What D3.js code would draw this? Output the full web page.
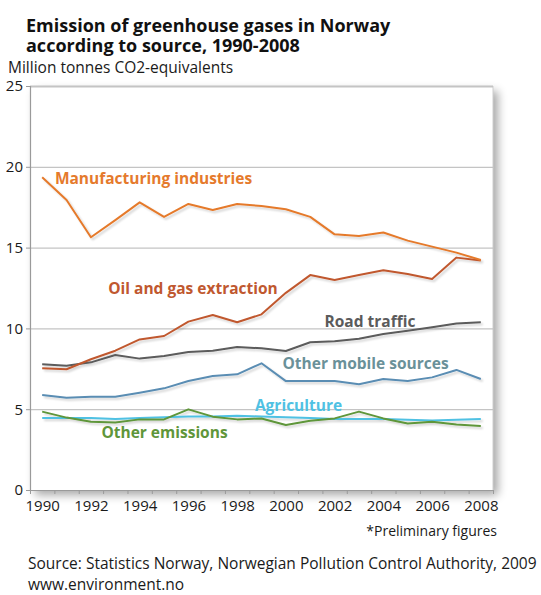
<!DOCTYPE html>
<html>
<head>
<meta charset="utf-8">
<script src="https://cdn.jsdelivr.net/npm/d3@7"></script>
<style>
  body { margin: 0; background: #fff; }
  svg text { font-family: "Open Sans", "Noto Sans", sans-serif; }
</style>
</head>
<body>
<div id="chartCtn"></div>
<script>
// values (million tonnes CO2-equivalents)
var years = d3.range( 1990, 2009 );
var yearLabels = [ 1990, 1992, 1994, 1996, 1998, 2000, 2002, 2004, 2006, 2008 ];
var yTicks = [ 0, 5, 10, 15, 20, 25 ];

var manufacturing = [ 19.35, 17.95, 15.64, 16.7, 17.8, 16.9, 17.7, 17.33, 17.7, 17.57,
	17.37, 16.9, 15.82, 15.72, 15.93, 15.43, 15.06, 14.69, 14.23 ];
var oilGas = [ 7.53, 7.47, 8.09, 8.62, 9.32, 9.53, 10.42, 10.83, 10.38, 10.87,
	12.2, 13.3, 13.0, 13.3, 13.6, 13.37, 13.06, 14.38, 14.2 ];
var roadTraffic = [ 7.78, 7.69, 7.9, 8.35, 8.13, 8.29, 8.54, 8.62, 8.85, 8.77,
	8.6, 9.14, 9.2, 9.36, 9.65, 9.86, 10.07, 10.31, 10.38 ];
var otherMobile = [ 5.88, 5.71, 5.77, 5.77, 6.02, 6.29, 6.74, 7.05, 7.16, 7.84,
	6.74, 6.74, 6.74, 6.54, 6.87, 6.74, 6.97, 7.43, 6.87 ];
var agriculture = [ 4.45, 4.45, 4.45, 4.4, 4.45, 4.5, 4.55, 4.55, 4.6, 4.55,
	4.5, 4.45, 4.4, 4.4, 4.4, 4.35, 4.3, 4.35, 4.4 ];
var otherEmissions = [ 4.85, 4.48, 4.23, 4.17, 4.37, 4.37, 4.99, 4.54, 4.37, 4.43,
	4.02, 4.29, 4.43, 4.85, 4.43, 4.12, 4.23, 4.06, 3.96 ];

var seriesNames = [ "Manufacturing industries", "Oil and gas extraction", "Road traffic",
	"Other mobile sources", "Agriculture", "Other emissions" ];
var seriesValues = [ manufacturing, oilGas, roadTraffic, otherMobile, agriculture, otherEmissions ];
var lineColors = [ "#e57a2c", "#c0582f", "#5b5b5b", "#5a8db3", "#4fc1e3", "#5f963a" ];
var labelColors = [ "#e57a2c", "#c0582f", "#5b5b5b", "#6a9199", "#4fc1e3", "#5f963a" ];
// label centre: [year position, value]
var labelPos = [ [ 1994.57, 19.25 ], [ 1996.19, 12.44 ], [ 2003.45, 10.4 ], [ 2003.27, 7.8 ], [ 2000.52, 5.22 ], [ 1995.02, 3.53 ] ];

( function () {
	var width = 541, height = 595;
	var mLeft = 30, mRight = 493, mTop = 86, mBottom = 490;

	var svg = d3.select( "#chartCtn" )
		.append( "svg" )
		.attr( "width", width )
		.attr( "height", height );

	var defs = svg.append( "defs" );
	var shadow = defs.append( "filter" ).attr( "id", "boxShadow" )
		.attr( "x", "-5%" ).attr( "y", "-5%" ).attr( "width", "115%" ).attr( "height", "115%" );
	shadow.append( "feGaussianBlur" ).attr( "in", "SourceAlpha" ).attr( "stdDeviation", 5 );
	shadow.append( "feOffset" ).attr( "dx", 5 ).attr( "dy", 5 );
	shadow.append( "feComponentTransfer" ).append( "feFuncA" ).attr( "type", "linear" ).attr( "slope", 0.35 );
	var m1 = shadow.append( "feMerge" );
	m1.append( "feMergeNode" );
	m1.append( "feMergeNode" ).attr( "in", "SourceGraphic" );

	var lineShadow = defs.append( "filter" ).attr( "id", "lineShadow" )
		.attr( "x", "-5%" ).attr( "y", "-20%" ).attr( "width", "110%" ).attr( "height", "140%" );
	lineShadow.append( "feGaussianBlur" ).attr( "in", "SourceAlpha" ).attr( "stdDeviation", 1.2 );
	lineShadow.append( "feOffset" ).attr( "dx", 1.5 ).attr( "dy", 2 );
	lineShadow.append( "feComponentTransfer" ).append( "feFuncA" ).attr( "type", "linear" ).attr( "slope", 0.18 );
	var m2 = lineShadow.append( "feMerge" );
	m2.append( "feMergeNode" );
	m2.append( "feMergeNode" ).attr( "in", "SourceGraphic" );

	var xScale = d3.scaleLinear()
		.domain( [ 1989.5, 2008.5 ] )
		.range( [ mLeft, mRight ] );

	var yScale = d3.scaleLinear()
		.domain( [ 0, 25 ] )
		.range( [ mBottom, mTop ] );

	// plot box with drop shadow
	svg.append( "rect" )
		.attr( "x", mLeft ).attr( "y", mTop )
		.attr( "width", mRight - mLeft ).attr( "height", mBottom - mTop )
		.attr( "fill", "#fff" )
		.attr( "filter", "url(#boxShadow)" );

	svg.append( "line" )
		.attr( "x1", mRight ).attr( "x2", mRight )
		.attr( "y1", mTop ).attr( "y2", mBottom )
		.attr( "stroke", "#cfcfcf" ).attr( "stroke-width", 1 );

	// grid
	svg.append( "g" )
		.attr( "class", "grid" )
		.attr( "transform", `translate( ${mLeft} , 0 )` )
		.call( d3.axisLeft( yScale ).tickValues( yTicks.slice( 1 ) ).tickSize( -( mRight - mLeft ) ).tickFormat( "" ) )
		.call( g => g.select( ".domain" ).remove() )
		.selectAll( "line" )
		.attr( "stroke", "#c4c4c4" )
		.attr( "stroke-width", d => d === 25 ? 2 : 1.2 );

	// y axis
	svg.append( "g" )
		.attr( "transform", `translate( ${mLeft} , 0 )` )
		.call( d3.axisLeft( yScale ).tickValues( yTicks ).tickSize( 4 ).tickPadding( 3 ) )
		.call( g => g.select( ".domain" ).attr( "stroke", "#9a9a9a" ).attr( "stroke-width", 1.2 ) )
		.call( g => g.selectAll( "line" ).attr( "stroke", "#9a9a9a" ) )
		.selectAll( "text" )
		.attr( "font-family", "Open Sans" )
		.attr( "font-size", "15px" )
		.attr( "fill", "#1a1a1a" );

	// x axis: tick marks between years, labels at even years
	svg.append( "g" )
		.attr( "transform", `translate( 0, ${mBottom} )` )
		.call( d3.axisBottom( xScale ).tickValues( d3.range( 1989.5, 2009, 1 ) ).tickSize( 4 ).tickFormat( "" ).tickSizeOuter( 0 ) )
		.call( g => g.select( ".domain" ).attr( "stroke", "#9a9a9a" ).attr( "stroke-width", 1.2 ) )
		.call( g => g.selectAll( "line" ).attr( "stroke", "#9a9a9a" ) );

	svg.append( "g" )
		.attr( "transform", `translate( 0, ${mBottom} )` )
		.call( d3.axisBottom( xScale ).tickValues( yearLabels ).tickSize( 0 ).tickPadding( 10 ).tickFormat( d3.format( "d" ) ) )
		.call( g => g.select( ".domain" ).remove() )
		.selectAll( "text" )
		.attr( "font-family", "Open Sans" )
		.attr( "font-size", "15px" )
		.attr( "fill", "#1a1a1a" );

	// lines
	var line = d3.line()
		.x( ( d, i ) => xScale( years[i] ) )
		.y( d => yScale( d ) );

	var drawOrder = [ 4, 5, 3, 2, 1, 0 ];
	svg.append( "g" )
		.attr( "filter", "url(#lineShadow)" )
		.selectAll( "path" )
		.data( drawOrder )
		.enter()
		.append( "path" )
		.attr( "d", k => line( seriesValues[k] ) )
		.attr( "fill", "none" )
		.attr( "stroke", k => lineColors[k] )
		.attr( "stroke-width", 2 )
		.attr( "stroke-linejoin", "round" );

	// series labels
	svg.append( "g" )
		.selectAll( "text" )
		.data( seriesNames )
		.enter()
		.append( "text" )
		.attr( "x", ( d, i ) => xScale( labelPos[i][0] ) )
		.attr( "y", ( d, i ) => yScale( labelPos[i][1] ) )
		.attr( "dy", "0.35em" )
		.attr( "text-anchor", "middle" )
		.attr( "font-weight", "bold" )
		.attr( "font-size", "15.5px" )
		.attr( "fill", ( d, i ) => labelColors[i] )
		.text( d => d );

	// titles and notes
	svg.append( "text" )
		.attr( "x", 26 ).attr( "y", 32 )
		.attr( "font-weight", "bold" ).attr( "font-size", "18px" ).attr( "fill", "#111" )
		.text( "Emission of greenhouse gases in Norway" );
	svg.append( "text" )
		.attr( "x", 26 ).attr( "y", 52 )
		.attr( "font-weight", "bold" ).attr( "font-size", "18px" ).attr( "fill", "#111" )
		.text( "according to source, 1990-2008" );
	svg.append( "text" )
		.attr( "x", 8 ).attr( "y", 73 )
		.attr( "font-size", "15.5px" ).attr( "fill", "#1a1a1a" )
		.text( "Million tonnes CO2-equivalents" );
	svg.append( "text" )
		.attr( "x", 497 ).attr( "y", 536 )
		.attr( "text-anchor", "end" )
		.attr( "font-size", "14px" ).attr( "fill", "#1a1a1a" )
		.text( "*Preliminary figures" );
	svg.append( "text" )
		.attr( "x", 28 ).attr( "y", 569 )
		.attr( "font-size", "15.5px" ).attr( "fill", "#1a1a1a" )
		.text( "Source: Statistics Norway, Norwegian Pollution Control Authority, 2009" );
	svg.append( "text" )
		.attr( "x", 28 ).attr( "y", 590 )
		.attr( "font-size", "15.5px" ).attr( "fill", "#1a1a1a" )
		.text( "www.environment.no" );
} )();
</script>
</body>
</html>
